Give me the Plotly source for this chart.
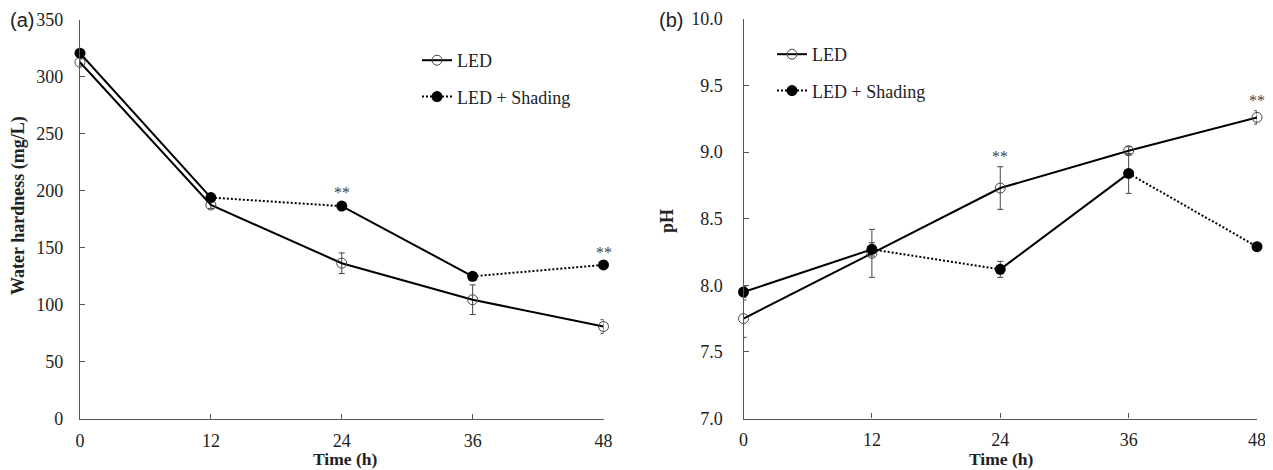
import plotly.graph_objects as go

# ---------------- data ----------------
time_h = [0, 12, 24, 36, 48]
time_ticks = ["0", "12", "24", "36", "48"]

hard_led = [312.5, 187.5, 136.5, 104.5, 81]
hard_led_err = [3, 3, 9, 13, 6]
hard_shade = [320.5, 194, 186.5, 125, 135]
hard_shade_err = [3, 3, 3, 3, 2]

ph_led = [7.75, 8.24, 8.73, 9.01, 9.26]
ph_led_err = [0.14, 0.18, 0.16, 0.03, 0.05]
ph_shade = [7.95, 8.27, 8.12, 8.84, 8.29]
ph_shade_err = [0.04, 0.05, 0.06, 0.15, 0.01]

sig_times = [24, 48]   # time points marked "**"

# ---------------- styles / geometry ----------------
OFF = 8                      # page body margin in the browser
W, H = 1273 - OFF, 470 - OFF


def fx(px):
    return (px - OFF) / W


def fy(py):
    return (H - (py - OFF)) / H


SERIF = "Liberation Serif, Times New Roman, serif"
SANS = "Liberation Sans, Arial, sans-serif"
AX = "#555555"
shade_seg_dash = ["solid", "2px,2px", "solid", "2px,2px"]

fig = go.Figure()


def add_panel(xa, ya, legend, led, led_err, shade, shade_err):
    err_style = dict(type="data", thickness=1, width=3, color="#444")
    fig.add_trace(go.Scatter(
        x=time_h, y=led, mode="lines+markers", name="LED",
        xaxis=xa, yaxis=ya, legend=legend, legendgroup="led",
        line=dict(color="black", width=2),
        marker=dict(symbol="circle", size=10, color="rgba(0,0,0,0)",
                    line=dict(color="#444", width=1)),
        error_y=dict(array=led_err, **err_style), cliponaxis=False))
    fig.add_trace(go.Scatter(
        x=time_h, y=shade, mode="markers", name="LED + Shading",
        xaxis=xa, yaxis=ya, legend=legend, legendgroup="shade",
        marker=dict(symbol="circle", size=11, color="black"),
        error_y=dict(array=shade_err, **err_style), cliponaxis=False,
        showlegend=False))
    for i, dash in enumerate(shade_seg_dash):
        fig.add_trace(go.Scatter(
            x=time_h[i:i + 2], y=shade[i:i + 2], mode="lines",
            xaxis=xa, yaxis=ya, showlegend=False, hoverinfo="skip",
            line=dict(color="black", width=2, dash=dash), cliponaxis=False))
    # legend entry for the shading series (dotted line + filled dot)
    fig.add_trace(go.Scatter(
        x=[None], y=[None], mode="lines+markers", name="LED + Shading",
        xaxis=xa, yaxis=ya, legend=legend, legendgroup="shade",
        line=dict(color="black", width=2, dash="2px,2px"),
        marker=dict(symbol="circle", size=11, color="black")))
    # significance stars
    for t in sig_times:
        i = time_h.index(t)
        top = max(led[i] + led_err[i], shade[i] + shade_err[i])
        fig.add_annotation(x=t, y=top, xref=xa, yref=ya, text="**",
                           showarrow=False, yanchor="middle", yshift=10,
                           font=dict(family=SERIF, size=16, color="#444"))


add_panel("x", "y", "legend", hard_led, hard_led_err, hard_shade, hard_shade_err)
add_panel("x2", "y2", "legend2", ph_led, ph_led_err, ph_shade, ph_shade_err)

tickfont = dict(family=SERIF, size=18, color="#222")
common_x = dict(range=[0, 48], tickvals=time_h, ticktext=time_ticks,
                showline=True, linecolor=AX, linewidth=1.3, ticks="inside",
                ticklen=5, tickcolor=AX, tickwidth=1, showgrid=False,
                zeroline=False, tickfont=tickfont, ticklabelstandoff=5,
                automargin=False)
common_y = dict(showline=True, linecolor=AX, linewidth=1.3, ticks="inside",
                ticklen=5, tickcolor=AX, tickwidth=1, showgrid=False,
                zeroline=False, tickfont=tickfont, automargin=False)

legend_common = dict(font=dict(family=SERIF, size=18, color="#222"),
                     bgcolor="rgba(0,0,0,0)", xanchor="left", yanchor="top",
                     tracegroupgap=10, traceorder="grouped", itemwidth=30)

fig.update_layout(
    width=W, height=H, margin=dict(l=0, r=0, t=0, b=0, autoexpand=False),
    paper_bgcolor="white", plot_bgcolor="white",
    xaxis=dict(domain=[fx(80), fx(603.5)], anchor="y", **common_x),
    yaxis=dict(domain=[fy(419), fy(19.5)], anchor="x",
               range=[0, 350], dtick=50, ticklabelstandoff=12, **common_y),
    xaxis2=dict(domain=[fx(743.5), fx(1257)], anchor="y2", **common_x),
    yaxis2=dict(domain=[fy(418.6), fy(18.8)], anchor="x2",
                range=[7, 10], dtick=0.5, tickformat=".1f",
                ticklabelstandoff=16, **common_y),
    legend=dict(x=fx(417), y=fy(42), **legend_common),
    legend2=dict(x=fx(772), y=fy(36), **legend_common),
    showlegend=True,
)

# panel letters and axis titles
fig.add_annotation(x=fx(8), y=fy(20), xref="paper", yref="paper",
                   text="(a)", showarrow=False, xanchor="left", yanchor="middle",
                   font=dict(family=SANS, size=20, color="#222"))
fig.add_annotation(x=fx(657), y=fy(20), xref="paper", yref="paper",
                   text="(b)", showarrow=False, xanchor="left", yanchor="middle",
                   font=dict(family=SANS, size=20, color="#222"))
title_font = dict(family=SERIF, size=18, color="#222")
xtitle_font = dict(family=SERIF, size=17.5, color="#222")
fig.add_annotation(x=fx(18), y=fy(206), xref="paper", yref="paper",
                   text="<b>Water hardness (mg/L)</b>", textangle=-90,
                   showarrow=False, xanchor="center", yanchor="middle",
                   font=title_font)
fig.add_annotation(x=fx(667), y=fy(221), xref="paper", yref="paper",
                   text="<b>pH</b>", textangle=-90,
                   showarrow=False, xanchor="center", yanchor="middle",
                   font=title_font)
fig.add_annotation(x=fx(345), y=fy(470), xref="paper", yref="paper",
                   text="<b>Time (h)</b>", showarrow=False, borderpad=0,
                   xanchor="center", yanchor="bottom", font=xtitle_font)
fig.add_annotation(x=fx(1001), y=fy(470), xref="paper", yref="paper",
                   text="<b>Time (h)</b>", showarrow=False, borderpad=0,
                   xanchor="center", yanchor="bottom", font=xtitle_font)

fig.write_html("out.html")
